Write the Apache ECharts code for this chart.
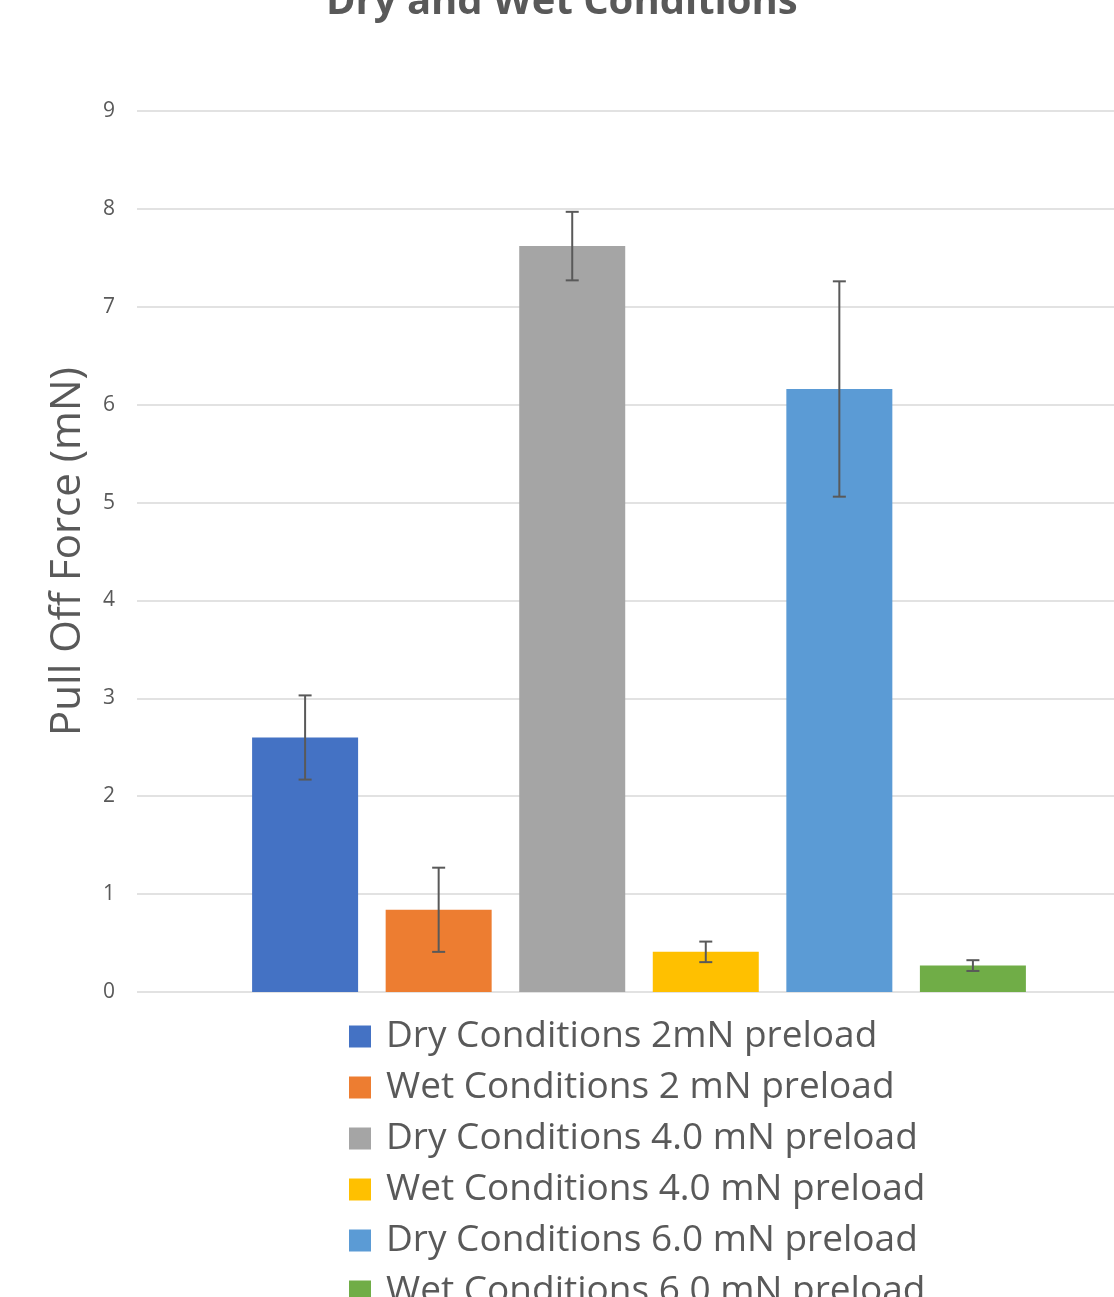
<!DOCTYPE html>
<html>
<head>
<meta charset="utf-8">
<script src="https://cdn.jsdelivr.net/npm/echarts@6/dist/echarts.min.js"></script>
<style>html,body{margin:0;padding:0;background:#fff;}#chart{width:1114px;height:1297px;}</style>
</head>
<body>
<div id="chart"></div>
<script>
const titleText = "Dry and Wet Conditions";
const yAxisName = "Pull Off Force (mN)";
const seriesNames = [
  "Dry Conditions 2mN preload",
  "Wet Conditions 2 mN preload",
  "Dry Conditions 4.0 mN preload",
  "Wet Conditions 4.0 mN preload",
  "Dry Conditions 6.0 mN preload",
  "Wet Conditions 6.0 mN preload"
];
const meanValues = [2.60, 0.84, 7.62, 0.41, 6.16, 0.27];
const errorValues = [0.43, 0.43, 0.35, 0.105, 1.10, 0.055];
const seriesColors = ["#4472C4", "#ED7D31", "#A5A5A5", "#FFC000", "#5B9BD5", "#70AD47"];
const yTicks = { min: 0, max: 9, interval: 1 };

const FONT = "'Open Sans', 'Noto Sans', sans-serif";
const TXT = "#595959";
const BAR_W = 106;
const BAR_GAP = 0.26;

const chart = echarts.init(document.getElementById('chart'));

const barSeries = seriesNames.map((name, i) => ({
  name: name,
  type: 'bar',
  xAxisIndex: 1,
  yAxisIndex: 1,
  data: [meanValues[i]],
  itemStyle: { color: seriesColors[i] },
  barWidth: BAR_W,
  barGap: (BAR_GAP * 100) + '%',
  animation: false
}));

const errData = meanValues.map((m, i) => [0, m - errorValues[i], m + errorValues[i], i]);

const errSeries = {
  type: 'custom',
  name: 'err',
  xAxisIndex: 1,
  yAxisIndex: 1,
  data: errData,
  encode: { x: 0, y: [1, 2] },
  z: 10,
  silent: true,
  animation: false,
  renderItem: function (params, api) {
    const n = seriesNames.length;
    const idx = api.value(3);
    const bw = BAR_W;
    const total = n * bw + (n - 1) * bw * BAR_GAP;
    const center = api.coord([0, 0])[0];
    const x = center - total / 2 + idx * bw * (1 + BAR_GAP) + bw / 2;
    const lo = api.coord([0, api.value(1)])[1];
    const hi = api.coord([0, api.value(2)])[1];
    const cap = 6.5;
    const st = { stroke: '#595959', lineWidth: 2 };
    return {
      type: 'group',
      children: [
        { type: 'line', shape: { x1: x, y1: lo, x2: x, y2: hi }, style: st },
        { type: 'line', shape: { x1: x - cap, y1: lo, x2: x + cap, y2: lo }, style: st },
        { type: 'line', shape: { x1: x - cap, y1: hi, x2: x + cap, y2: hi }, style: st }
      ]
    };
  }
};

chart.setOption({
  backgroundColor: '#ffffff',
  animation: false,
  title: {
    text: titleText,
    left: 326,
    top: -17,
    padding: 0,
    textStyle: { fontFamily: FONT, fontSize: 40, fontWeight: 'bold', color: TXT }
  },
  legend: {
    data: seriesNames,
    orient: 'vertical',
    left: 349,
    top: 1018,
    height: 330,
    padding: 0,
    itemWidth: 22,
    itemHeight: 22,
    itemGap: 14,
    icon: 'rect',
    textStyle: { fontFamily: FONT, fontSize: 37, color: TXT, padding: [0, 0, 0, 10] }
  },
  grid: [
    { left: 137, top: 111, right: 0, height: 881 },
    { left: 164, top: 111, right: 0, height: 881 }
  ],
  xAxis: [
    { type: 'category', gridIndex: 0, data: [''], show: false },
    { type: 'category', gridIndex: 1, data: [''], show: false }
  ],
  yAxis: [
    {
      type: 'value',
      gridIndex: 0,
      min: yTicks.min,
      max: yTicks.max,
      interval: yTicks.interval,
      name: yAxisName,
      nameLocation: 'middle',
      nameGap: 48,
      nameTextStyle: { fontFamily: FONT, fontSize: 42, color: TXT },
      axisLine: { show: false },
      axisTick: { show: false },
      axisLabel: { fontFamily: FONT, fontSize: 21, color: TXT, margin: 22 },
      splitLine: { lineStyle: { color: '#d9d9d9', width: 1.5 } }
    },
    {
      type: 'value',
      gridIndex: 1,
      min: yTicks.min,
      max: yTicks.max,
      interval: yTicks.interval,
      show: false,
      splitLine: { show: false }
    }
  ],
  series: barSeries.concat([errSeries])
});
</script>
</body>
</html>
